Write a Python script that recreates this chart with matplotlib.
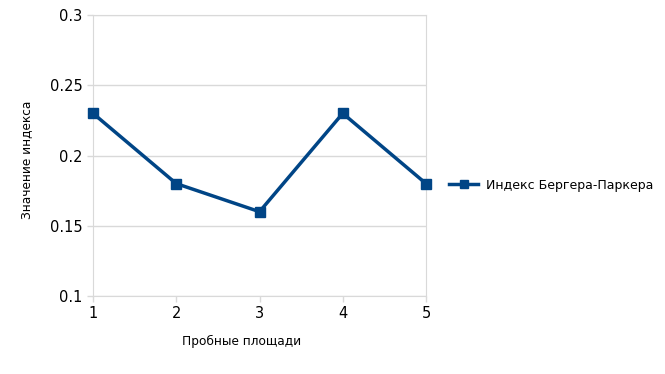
import matplotlib.pyplot as plt
from matplotlib.lines import Line2D

plots = [1, 2, 3, 4, 5]
index_values = [0.23, 0.18, 0.16, 0.23, 0.18]
series_name = "Индекс Бергера-Паркера"
yticks = [0.1, 0.15, 0.2, 0.25, 0.3]
ytick_labels = ["0.1", "0.15", "0.2", "0.25", "0.3"]

color = "#004586"
grid_color = "#d9d9d9"

fig = plt.figure(figsize=(6.65, 3.74), dpi=100)
ax = fig.add_axes([93/665, 1 - 296/374, 333/665, 281/374])

ax.plot(plots, index_values, color=color, linewidth=2.5,
        marker="s", markersize=7.5, zorder=3, clip_on=False)

ax.set_xlim(1, 5)
ax.set_ylim(0.1, 0.3)
ax.set_xticks(plots)
ax.set_yticks(yticks)
ax.set_yticklabels(ytick_labels)
ax.grid(axis="y", color=grid_color, linewidth=1)
for s in ax.spines.values():
    s.set_color(grid_color)
ax.tick_params(colors=grid_color, labelcolor="black", labelsize=10.5,
               length=4, width=1)

ax.set_xlabel("Пробные площади", fontsize=8.7)
ax.set_ylabel("Значение индекса", fontsize=8.7)
ax.xaxis.set_label_coords((242 - 93) / 333, -0.14)
ax.yaxis.set_label_coords((33 - 93) / 333, 0.484)

handle = Line2D([0], [0], color=color, linewidth=2.5, marker="s", markersize=6)
fig.legend([handle], [series_name], loc="center left",
           bbox_to_anchor=(438/665, 1 - 185/374), frameon=False,
           fontsize=9, handlelength=2.3, handletextpad=0.6)

fig.savefig("out.png", dpi=100)
